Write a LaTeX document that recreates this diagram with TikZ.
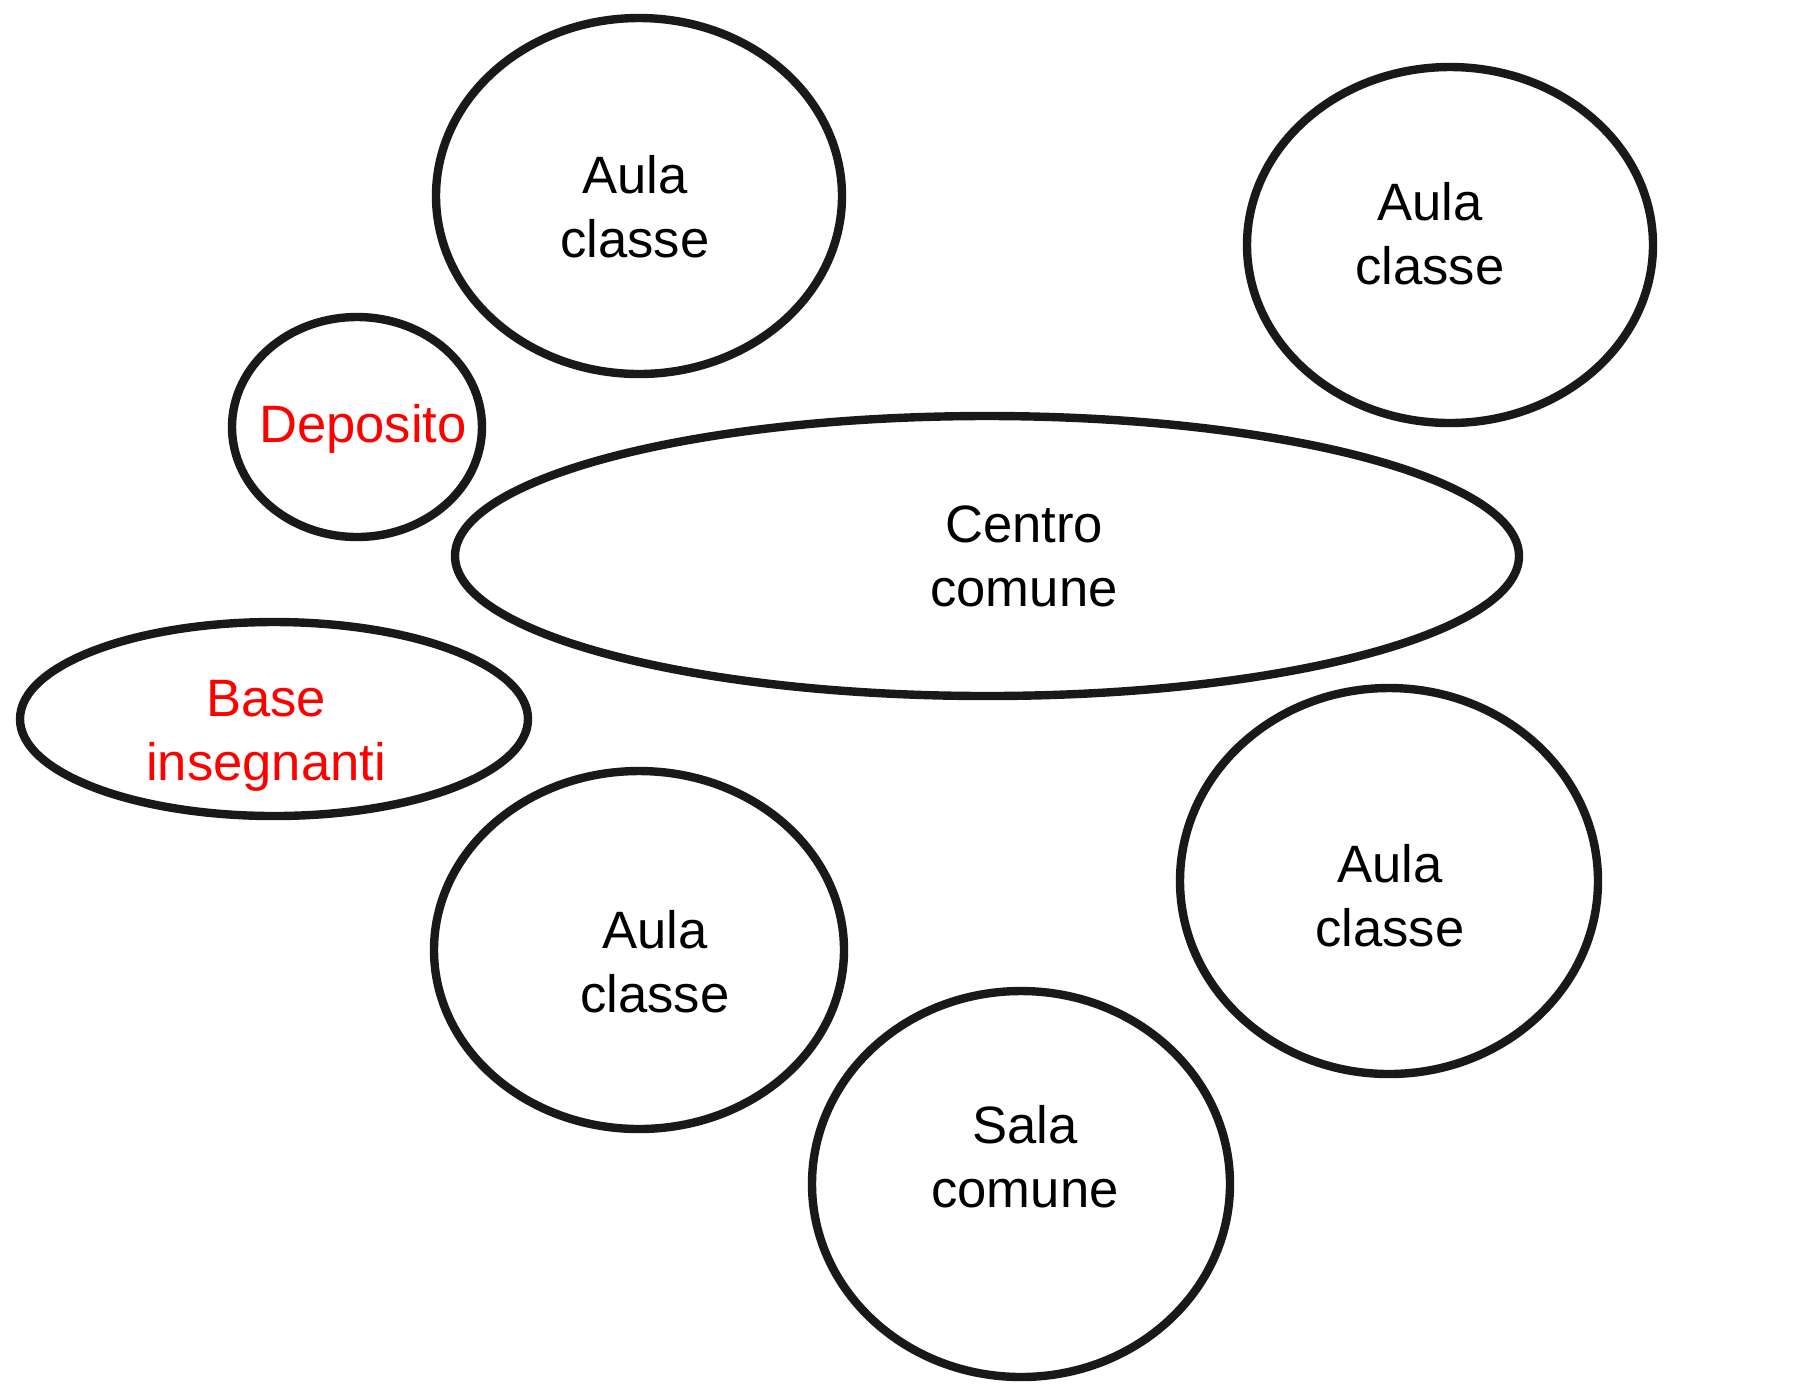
\documentclass[tikz,border=0pt]{standalone}
\usepackage{fontspec}
\setmainfont{Liberation Sans}
\usetikzlibrary{shapes.geometric}
\colorlet{myred}{red}

\begin{document}
\begin{tikzpicture}[x=0.5pt,y=-0.5pt]
\tikzset{RoomStyle/.style ={shape=ellipse, draw=black!90, line width=4.2pt, inner sep=0}}
\tikzset{TextStyle/.style ={align=center, inner sep=0, font=\fontsize{26.3}{32}\selectfont}}
\useasboundingbox[fill=white] (0,0) rectangle (1804,1389);
\node[RoomStyle, minimum width=203pt, minimum height=178pt] (aula1) at (639,196) {};
\node[RoomStyle, minimum width=203pt, minimum height=178pt] (aula2) at (1450,245) {};
\node[RoomStyle, minimum width=125pt, minimum height=110pt] (deposito) at (357,427) {};
\node[RoomStyle, minimum width=532pt, minimum height=140pt] (centro) at (987,556) {};
\node[RoomStyle, minimum width=254pt, minimum height=97pt] (base) at (274,719) {};
\node[RoomStyle, minimum width=205pt, minimum height=179pt] (aula3) at (639,950) {};
\node[RoomStyle, minimum width=209pt, minimum height=193pt] (aula4) at (1389,881) {};
\node[RoomStyle, minimum width=209pt, minimum height=193pt] (sala) at (1021,1184) {};
% labels
\node[TextStyle] (aula1t) at (635,207) {Aula\\classe};
\node[TextStyle] (aula2t) at (1430,234) {Aula\\classe};
\node[TextStyle, text=myred] (depositot) at (363,429) {Deposito};
\node[TextStyle] (centrot) at (1024,556) {Centro\\comune};
\node[TextStyle, text=myred] (baset) at (266,736) {Base\\insegnanti};
\node[TextStyle] (aula3t) at (655,962) {Aula\\classe};
\node[TextStyle] (aula4t) at (1390,896) {Aula\\classe};
\node[TextStyle] (salat) at (1025,1157) {Sala\\comune};
\end{tikzpicture}
\end{document}
